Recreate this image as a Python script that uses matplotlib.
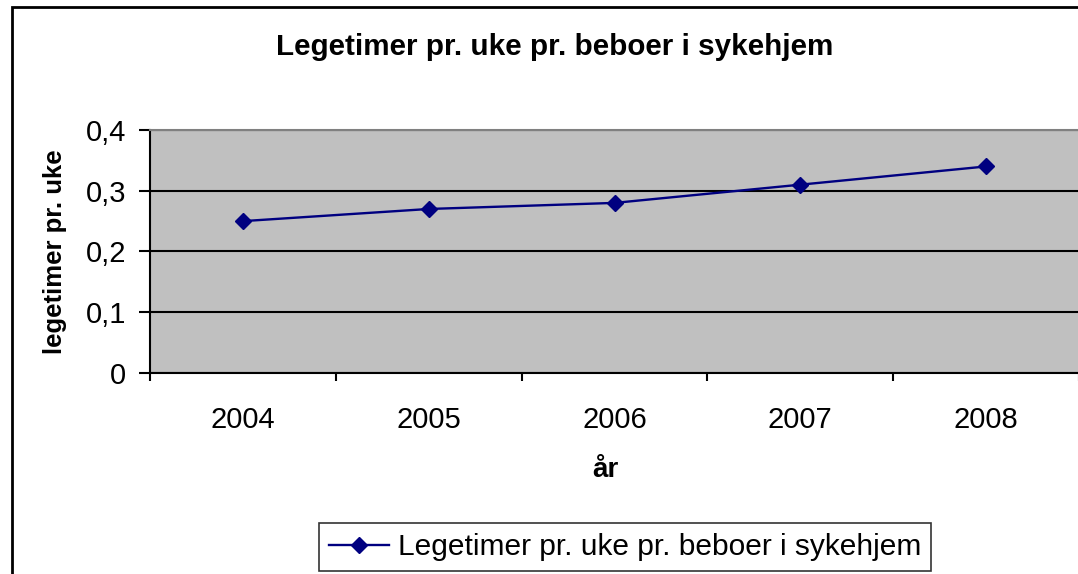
import matplotlib
matplotlib.use("Agg")
import matplotlib.pyplot as plt
from matplotlib.patches import Rectangle
from matplotlib.ticker import FuncFormatter, FixedLocator

plt.rcParams['font.family'] = ['Liberation Sans', 'DejaVu Sans']

# data
years = ["2004", "2005", "2006", "2007", "2008"]
values = [0.25, 0.27, 0.28, 0.31, 0.34]
series_name = "Legetimer pr. uke pr. beboer i sykehjem"

fig = plt.figure(figsize=(10.78, 5.74), dpi=100)
fig.patch.set_facecolor("white")

# ramme rundt hele figuren
fig.patches.append(Rectangle((12 / 1078, -0.05), 1.1, 1 - 7 / 574 + 0.05,
                             transform=fig.transFigure, fill=False,
                             edgecolor="black", linewidth=2, zorder=0))

ax = fig.add_axes([150 / 1078, 1 - 373 / 574, 929 / 1078, 243 / 574])
ax.set_facecolor("#C0C0C0")

x = list(range(len(years)))
ax.plot(x, values, color="#000080", linewidth=1.7, marker="D",
        markersize=8, markerfacecolor="#000080", markeredgecolor="#000080",
        label=series_name, zorder=3)

ax.set_xlim(-0.5, len(years) - 0.5)
ax.set_ylim(0, 0.4)
ax.set_yticks([0, 0.1, 0.2, 0.3, 0.4])
ax.yaxis.set_major_formatter(FuncFormatter(lambda v, p: "0" if v == 0 else f"{v:.1f}".replace(".", ",")))
ax.yaxis.grid(True, color="black", linewidth=1.5)
ax.set_axisbelow(True)

# tick-streker mellom kategoriene, etiketter i midten
ax.xaxis.set_major_locator(FixedLocator([i - 0.5 for i in range(len(years) + 1)]))
ax.xaxis.set_major_formatter(FuncFormatter(lambda v, p: ""))
ax.set_xticks(x, minor=True)
ax.set_xticklabels(years, minor=True)
ax.tick_params(axis="x", which="major", direction="out", length=6, width=1.5, color="black")
ax.tick_params(axis="x", which="minor", length=0, pad=24, labelsize=21)
ax.tick_params(axis="y", direction="out", length=8, width=1.5, pad=9, labelsize=21)

for s in ["left", "bottom"]:
    ax.spines[s].set_color("black")
    ax.spines[s].set_linewidth(1.5)
ax.spines["top"].set_color("#808080")
ax.spines["top"].set_linewidth(1.5)
ax.spines["right"].set_visible(False)

fig.text(555 / 1078, 1 - 47 / 574, "Legetimer pr. uke pr. beboer i sykehjem",
         ha="center", va="center", fontsize=21.3, fontweight="bold")
fig.text(55 / 1078, 1 - 252 / 574, "legetimer pr. uke", rotation=90,
         ha="center", va="center", fontsize=18.5, fontweight="bold")
fig.text(605 / 1078, 1 - 470 / 574, "år", ha="center", va="center",
         fontsize=20, fontweight="bold")

leg = fig.legend(loc="center", bbox_to_anchor=(625 / 1078, 1 - 547 / 574),
                 fontsize=21.5, frameon=True, fancybox=False, handlelength=2.0,
                 borderpad=0.35, handletextpad=0.3, borderaxespad=0)
leg.get_frame().set_edgecolor("black")
leg.get_frame().set_linewidth(1.2)

fig.savefig("out.png", dpi=100)
